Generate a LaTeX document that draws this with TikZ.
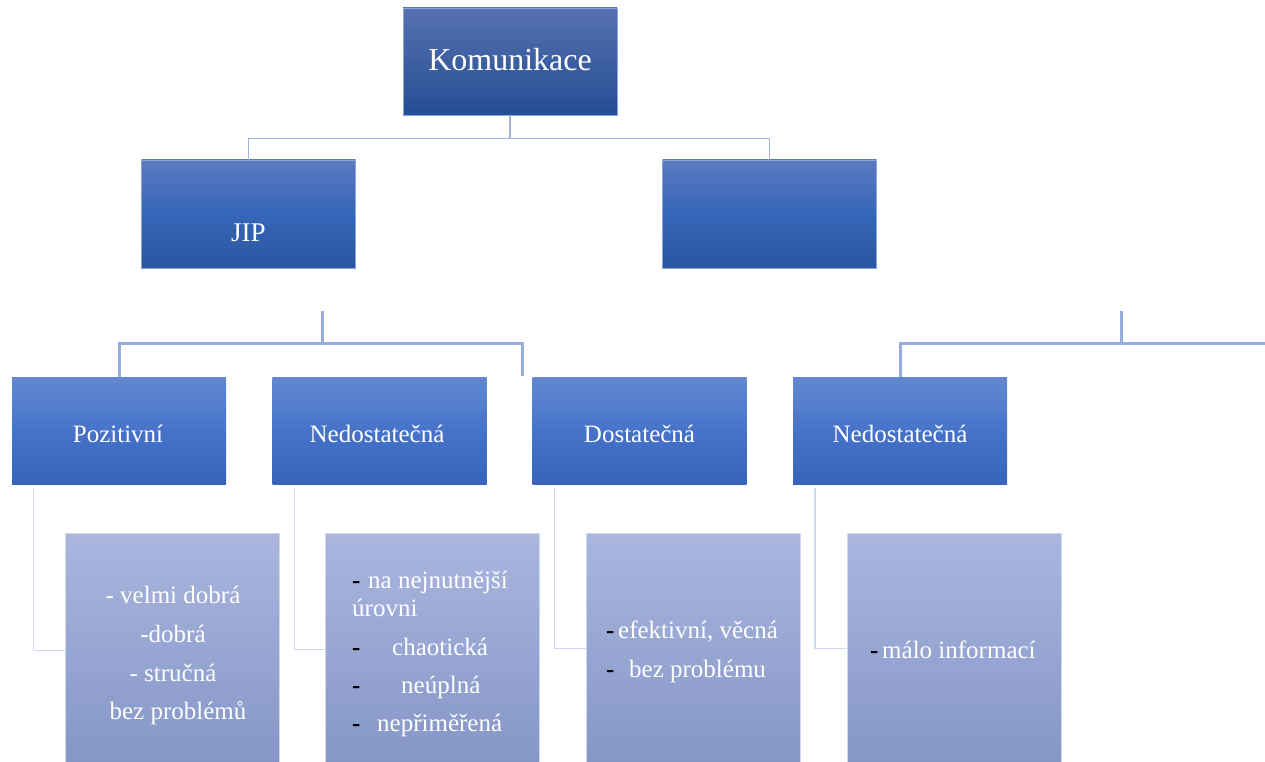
\documentclass[tikz,border=0pt]{standalone}
\usepackage{fontspec}
\setmainfont{Liberation Serif}
\definecolor{oneTop}{RGB}{86,113,176}
\definecolor{oneBot}{RGB}{37,77,148}
\definecolor{twoTop}{RGB}{92,121,192}
\definecolor{twoMid}{RGB}{54,102,184}
\definecolor{twoBot}{RGB}{42,86,162}
\definecolor{thrTop}{RGB}{99,136,209}
\definecolor{thrMid}{RGB}{70,115,201}
\definecolor{thrBot}{RGB}{54,100,187}
\definecolor{fourTop}{RGB}{170,182,222}
\definecolor{fourBot}{RGB}{133,150,199}
\definecolor{edgeBlue}{RGB}{140,164,220}
\definecolor{lineA}{RGB}{163,179,218}
\definecolor{lineB}{RGB}{150,172,219}
\definecolor{lineC}{RGB}{206,216,238}
\tikzset{
  boxbase/.style={rectangle, inner sep=0pt, minimum width=214pt},
  rootbox/.style={boxbase, minimum height=107pt, top color=oneTop, bottom color=oneBot, draw=edgeBlue, line width=0.8pt},
  midbox/.style={boxbase, minimum height=108pt, top color=twoTop, bottom color=twoBot, middle color=twoMid, draw=edgeBlue, line width=0.8pt},
  catbox/.style={boxbase, minimum height=107pt, top color=thrTop, bottom color=thrBot, middle color=thrMid},
  notebox/.style={boxbase, minimum height=229pt, top color=fourTop, bottom color=fourBot, draw=lineC, line width=0.8pt},
  lbl/.style={text=white, inner sep=0pt, anchor=base, font=\fontsize{25}{30}\selectfont},
  item/.style={text=white, inner sep=0pt, anchor=base west, font=\fontsize{25}{30}\selectfont},
  toplink/.style={draw=lineA, line width=1.6pt},
  sublink/.style={draw=lineB, line width=3pt},
  notelink/.style={draw=lineC, line width=1.6pt},
}
\newcommand{\bdash}[1]{\makebox[#1][l]{\textcolor{black}{\textbf{-}}}}
\begin{document}
\begin{tikzpicture}[x=1pt,y=-1pt]
\useasboundingbox (0,0) rectangle (1265,762);

% boxes
\node[rootbox] (kom) at (510,61.5) {};
\node[midbox] (jip) at (248.5,214) {};
\node[midbox] (rbox) at (769.5,214) {};

\node[catbox] (poz) at (119,431) {};
\node[catbox] (ned) at (379.5,431) {};
\node[catbox] (dos) at (639.5,431) {};
\node[catbox] (nedb) at (900,431) {};

\node[notebox] (n1) at (172,647.5) {};
\node[notebox] (n2) at (432.5,647.5) {};
\node[notebox] (n3) at (693.5,647.5) {};
\node[notebox] (n4) at (954,647.5) {};

% connectors: root level
\draw[toplink] (kom.south) -- ++(0,23) coordinate (hub) -| (jip.north);
\draw[toplink] (hub) -| (rbox.north);

% connectors: category level
\coordinate (jtop) at (322,311);
\coordinate (jend) at (522,376);
\draw[sublink] (jtop) -- ++(0,32) coordinate (jhub) -| (poz.north);
\draw[sublink] (jhub) -| (jend);
\coordinate (rtop) at (1121,311);
\coordinate (rend) at (1265,343);
\draw[sublink] (rtop) -- ++(0,32) coordinate (rhub) -| (nedb.north);
\draw[sublink] (rhub) -- (rend);

% connectors: notes
\draw[notelink] ([xshift=21.5pt,yshift=-3pt]poz.south west) |- ([yshift=-3pt]n1.west);
\draw[notelink] ([xshift=22pt,yshift=-3pt]ned.south west) |- ([yshift=-2pt]n2.west);
\draw[notelink] ([xshift=22pt,yshift=-3pt]dos.south west) |- ([yshift=-1pt]n3.west);
\draw[notelink] ([xshift=22pt,yshift=-3pt]nedb.south west) |- ([yshift=-1pt]n4.west);

% labels
\node[lbl, font=\fontsize{32}{38}\selectfont] (tkom) at (510,71) {Komunikace};
\node[lbl, font=\fontsize{27}{32}\selectfont] (tjip) at (248.5,241) {JIP};
\node[lbl] (tpoz) at (118,442) {Pozitivní};
\node[lbl] (tned) at (377,442) {Nedostatečná};
\node[lbl] (tdos) at (639.5,442) {Dostatečná};
\node[lbl] (tnedb) at (900,442) {Nedostatečná};

% note texts
\node[lbl] (a1) at (173,603) {- velmi dobrá};
\node[lbl] (a2) at (173,642) {-dobrá};
\node[lbl] (a3) at (173,681) {- stručná};
\node[lbl] (a4) at (178,719) {bez problémů};

\node[item] (b1) at (352,588) {\bdash{16pt}na nejnutnější};
\node[item] (b2) at (352,616) {úrovni};
\node[item] (b3) at (352,655) {\bdash{40pt}chaotická};
\node[item] (b4) at (352,693) {\bdash{49pt}neúplná};
\node[item] (b5) at (352,731) {\bdash{25pt}nepřiměřená};

\node[item] (c1) at (606,638) {\bdash{12pt}efektivní, věcná};
\node[item] (c2) at (606,677) {\bdash{23pt}bez problému};

\node[item] (d1) at (870,658) {\bdash{12pt}málo informací};
\end{tikzpicture}
\end{document}
